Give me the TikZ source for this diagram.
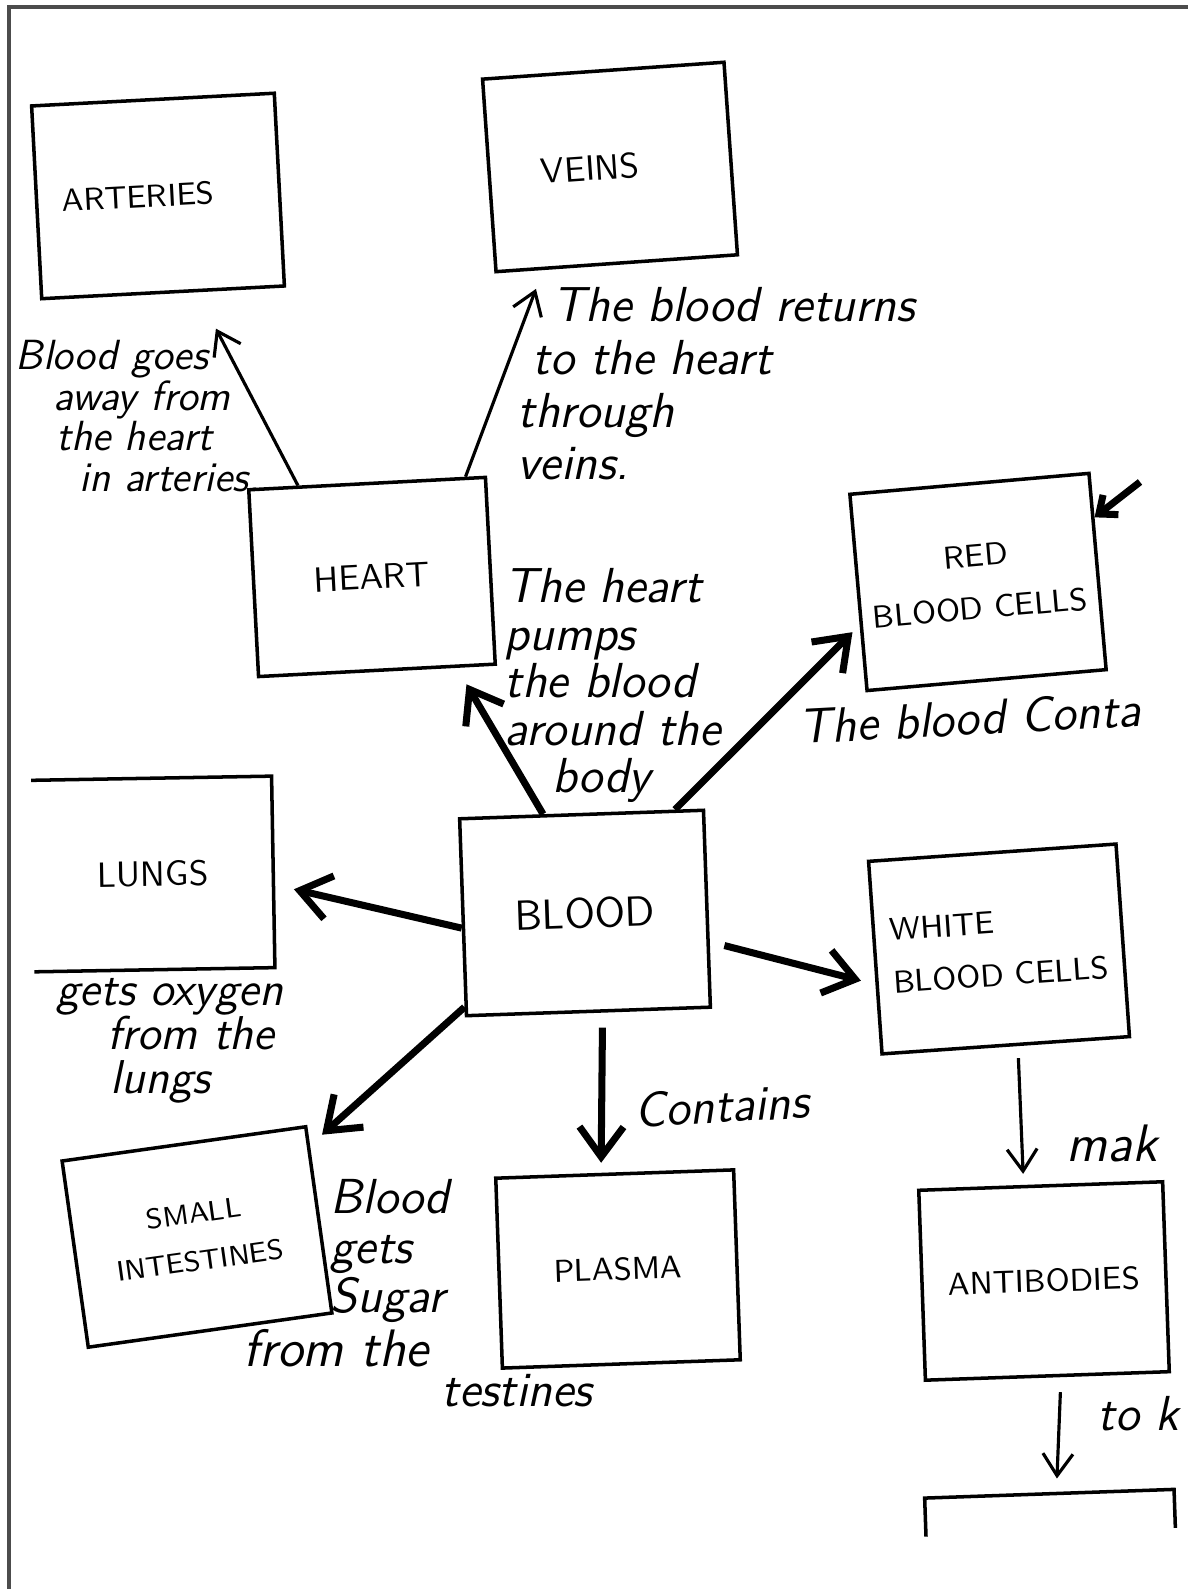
\documentclass[tikz,border=0pt]{standalone}
\usetikzlibrary{arrows.meta,positioning}
\newcommand{\hand}{\sffamily\itshape}

\begin{document}
\begin{tikzpicture}[scale=1.0,
  box/.style={draw, line width=1pt, inner sep=2pt, align=center, font=\sffamily\small},
  note/.style 2 args={inner sep=0pt, align=left, font=\hand\fontsize{#1}{#2}\selectfont},
  bold link/.style={-{Straight Barb[length=3mm,width=4.4mm]}, line width=2pt},
  fine link/.style={-{Straight Barb[length=2.2mm,width=3mm]}, line width=0.9pt}]
  \useasboundingbox (0,0) rectangle (11.88,15.89);
  \draw[black!70, line width=1pt] (0.09,0.0) -- (0.09,15.82) -- (11.88,15.82) ; %scan frame

  % boxes
  \node[box, minimum width=2.43cm, minimum height=1.93cm, rotate=3] (arteries) at (1.58,13.93) {ARTERIES\hspace*{0.4cm}};
  \node[box, font=\sffamily, minimum width=2.42cm, minimum height=1.93cm, rotate=4] (veins) at (6.10,14.22) {VEINS\hspace*{0.4cm}};
  \node[box, font=\sffamily, minimum width=2.37cm, minimum height=1.87cm, rotate=3] (heart) at (3.72,10.12) {HEART};
  \node[box, minimum width=2.40cm, minimum height=1.97cm, rotate=5] (red) at (9.78,10.07) {RED\\[4pt]BLOOD CELLS};
  \node[box, draw=none, font=\sffamily, minimum width=2.37cm, minimum height=1.88cm, rotate=1] (lungs) at (1.53,7.15) {LUNGS};
  \node[box, font=\sffamily\large, minimum width=2.44cm, minimum height=1.97cm, rotate=2] (blood) at (5.85,6.76) {BLOOD};
  \node[box, align=left, minimum width=2.48cm, minimum height=1.93cm, rotate=4] (white) at (9.99,6.40) {WHITE\\[4pt]BLOOD CELLS};
  \node[box, font=\sffamily\footnotesize, minimum width=2.46cm, minimum height=1.88cm, rotate=8] (smallint) at (1.97,3.52) {SMALL\\[4pt]INTESTINES};
  \node[box, minimum width=2.38cm, minimum height=1.90cm, rotate=2] (plasma) at (6.18,3.20) {PLASMA};
  \node[box, minimum width=2.44cm, minimum height=1.90cm, rotate=2] (antibodies) at (10.44,3.08) {ANTIBODIES};
  \node[box, draw=none, minimum width=2.46cm, minimum height=0.35cm, rotate=2] (nextbox) at (10.50,0.76) {};

  \draw[line width=1pt] (lungs.north west) -- (lungs.north east) -- (lungs.south east) -- (lungs.south west) ; %open on the left
  \draw[line width=1pt] (nextbox.south west) -- (nextbox.north west) -- (nextbox.north east) -- (nextbox.south east) ; %cut off

  % arrows
  \draw[fine link, shorten >=0.41cm] (heart.126) -- (arteries.-71) ;
  \draw[fine link, shorten >=0.2cm] (heart.44) -- (veins.-127) ;
  \draw[bold link, shorten >=0.19cm] (blood.111) -- (heart.-50) ;
  \draw[bold link, shorten >=0.1cm] (blood.47) -- (red.195) ;
  \draw[bold link, shorten >=0.21cm] (blood.185) -- (lungs.-6) ;
  \draw[bold link, shorten <=0.15cm, shorten >=0.15cm] (blood.-15) -- (white.192) ;
  \draw[bold link, shorten >=0.16cm] (blood.216) -- (smallint.31) ;
  \draw[bold link, shorten <=0.15cm, shorten >=0.1cm] (blood.-82) -- (plasma.98) ;
  \draw[fine link, shorten <=0.12cm, shorten >=0.11cm] (white.-83) -- (antibodies.100) ;
  \draw[fine link, shorten <=0.15cm, shorten >=0.15cm] (antibodies.-82) -- (nextbox.70) ;
  \coordinate (redin) at (11.40,11.07) ;
  \draw[line width=2pt, -{Straight Barb[length=1.5mm,width=2.5mm]}] (redin) -- (red.24) ;

  % handwritten notes
  \node[note={12}{11.5}, anchor=north west] (arterynote) at (0.15,12.49) {Blood goes\\\hspace*{0.38cm}away from\\\hspace*{0.41cm}the heart\\\hspace*{0.64cm}in arteries.};
  \node[note={14}{15}, anchor=north west] (veinnote) at (5.17,13.02) {\hspace*{0.35cm}The blood returns\\\hspace*{0.15cm}to the heart\\through\\veins.};
  \node[note={14}{13.5}, anchor=north west] (heartnote) at (5.04,10.21) {The heart\\pumps\\the blood\\around the\\\hspace*{0.48cm}body};
  \node[note={14}{14}, anchor=west, rotate=3] (rednote) at (7.98,8.62) {The blood Conta};
  \node[note={13.5}{12.5}, anchor=north west] (lungnote) at (0.56,6.11) {gets oxygen\\\hspace*{0.51cm}from the\\\hspace*{0.54cm}lungs};
  \node[note={14}{14}, anchor=north west] (sugarnote) at (3.30,4.10) {Blood\\gets\\Sugar};
  \node[note={15}{15}, anchor=west] (fromnote) at (2.43,2.41) {from the};
  \node[note={14}{14}, anchor=west] (restnote) at (4.41,1.98) {testines};
  \node[note={14}{14}, anchor=west, rotate=3] (containsnote) at (6.34,4.79) {Contains};
  \node[note={15}{15}, anchor=west] (makenote) at (10.66,4.46) {mak};
  \node[note={14}{14}, anchor=west] (killnote) at (10.97,1.75) {to k};
\end{tikzpicture}
\end{document}
